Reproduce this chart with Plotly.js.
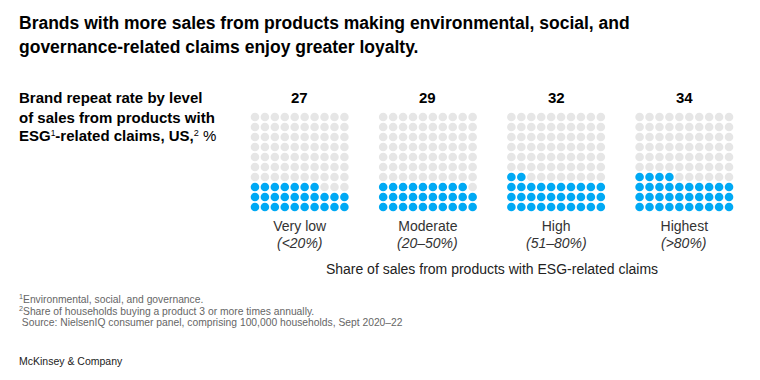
<!DOCTYPE html>
<html>
<head>
<meta charset="utf-8">
<script src="https://cdn.plot.ly/plotly-3.0.1.min.js"></script>
<style>html,body{margin:0;padding:0;background:#fff;}#chart{width:760px;height:380px;}</style>
</head>
<body>
<div id="chart"></div>
<script>
// ---- data ----
const categories = ["Very low", "Moderate", "High", "Highest"];
const ranges = ["(<20%)", "(20–50%)", "(51–80%)", "(>80%)"];
const repeatRate = [27, 29, 32, 34];

// ---- layout constants ----
const W = 760, H = 380;
const L = 249.5, R = 26, T = 112.3, B = 168.4;
const STEP = 12.9;      // panel spacing in dot units
const GRID = 10;        // 10x10 waffle
const FONT = "Liberation Sans, Arial, sans-serif";
const plotW = W - L - R, plotH = H - T - B;
const px = x => (x - L) / plotW;          // pixel -> paper x
const py = y => 1 - (y - T) / plotH;      // pixel -> paper y

const fx = [], fy = [], ex = [], ey = [];
repeatRate.forEach((v, p) => {
  for (let i = 0; i < GRID * GRID; i++) {
    const r = Math.floor(i / GRID), c = i % GRID;
    const x = p * STEP + c;
    if (i < v) { fx.push(x); fy.push(r); } else { ex.push(x); ey.push(r); }
  }
});

const traces = [
  {type: 'scatter', mode: 'markers', x: ex, y: ey, hoverinfo: 'skip',
   marker: {size: 8.6, color: '#e6e6e6'}},
  {type: 'scatter', mode: 'markers', x: fx, y: fy, hoverinfo: 'skip',
   marker: {size: 8.6, color: '#00a9f4'}}
];

const tickvals = categories.map((c, p) => p * STEP + (GRID - 1) / 2);

function note(text, xPix, yPix, size, color, anchor) {
  return {x: px(xPix), y: py(yPix), xref: 'paper', yref: 'paper', xanchor: 'left',
    yanchor: anchor || 'middle', align: 'left', showarrow: false, text: text,
    font: {family: FONT, size: size, color: color}};
}

const annotations = [];
repeatRate.forEach((v, p) => {
  annotations.push({
    x: tickvals[p], y: py(98), xref: 'x', yref: 'paper',
    text: '<b>' + v + '</b>', showarrow: false, xanchor: 'center', yanchor: 'middle',
    font: {family: FONT, size: 15, color: '#000'}
  });
  annotations.push({
    x: tickvals[p], y: py(242), xref: 'x', yref: 'paper',
    text: '<i>' + ranges[p] + '</i>', showarrow: false, xanchor: 'center', yanchor: 'middle',
    font: {family: FONT, size: 14, color: '#333'}
  });
});

// headline
annotations.push(note('<b>Brands with more sales from products making environmental, social, and</b>', 16, 24, 17.5, '#000'));
annotations.push(note('<b>governance-related claims enjoy greater loyalty.</b>', 16, 48, 17.5, '#000'));
// subtitle
annotations.push(note('<b>Brand repeat rate by level</b>', 16, 98, 15, '#000'));
annotations.push(note('<b>of sales from products with</b>', 16, 117.5, 15, '#000'));
annotations.push(note('<b>ESG</b><span style="font-size:12px"><sup>1</sup></span><b>-related claims, US,</b><span style="font-size:13px"><sup>2</sup></span> %', 16, 136, 15, '#000'));
// footnotes
annotations.push(note('<sup>1</sup>Environmental, social, and governance.', 16, 297, 10.3, '#666'));
annotations.push(note('<sup>2</sup>Share of households buying a product 3 or more times annually.', 16, 309, 10.3, '#666'));
annotations.push(note(' Source: NielsenIQ consumer panel, comprising 100,000 households, Sept 2020–22', 16, 321.5, 10.3, '#666'));
annotations.push(note('McKinsey & Company', 16, 360, 10.5, '#222'));

const layout = {
  width: W, height: H, showlegend: false,
  paper_bgcolor: '#fff', plot_bgcolor: '#fff',
  margin: {l: L, r: R, t: T, b: B, pad: 0},
  xaxis: {
    range: [-0.5, 3 * STEP + GRID - 0.5], showgrid: false, zeroline: false, showline: false,
    tickvals: tickvals, ticktext: categories, ticks: '', ticklabelstandoff: 4,
    tickfont: {family: FONT, size: 14, color: '#333'},
    title: {text: 'Share of sales from products with ESG-related claims', standoff: 31,
            font: {family: FONT, size: 14, color: '#222'}},
    fixedrange: true
  },
  yaxis: {
    range: [-0.5, GRID - 0.5], showgrid: false, zeroline: false, showline: false,
    showticklabels: false, ticks: '', fixedrange: true
  },
  annotations: annotations
};

Plotly.newPlot('chart', traces, layout, {displayModeBar: false, staticPlot: true});
</script>
</body>
</html>
